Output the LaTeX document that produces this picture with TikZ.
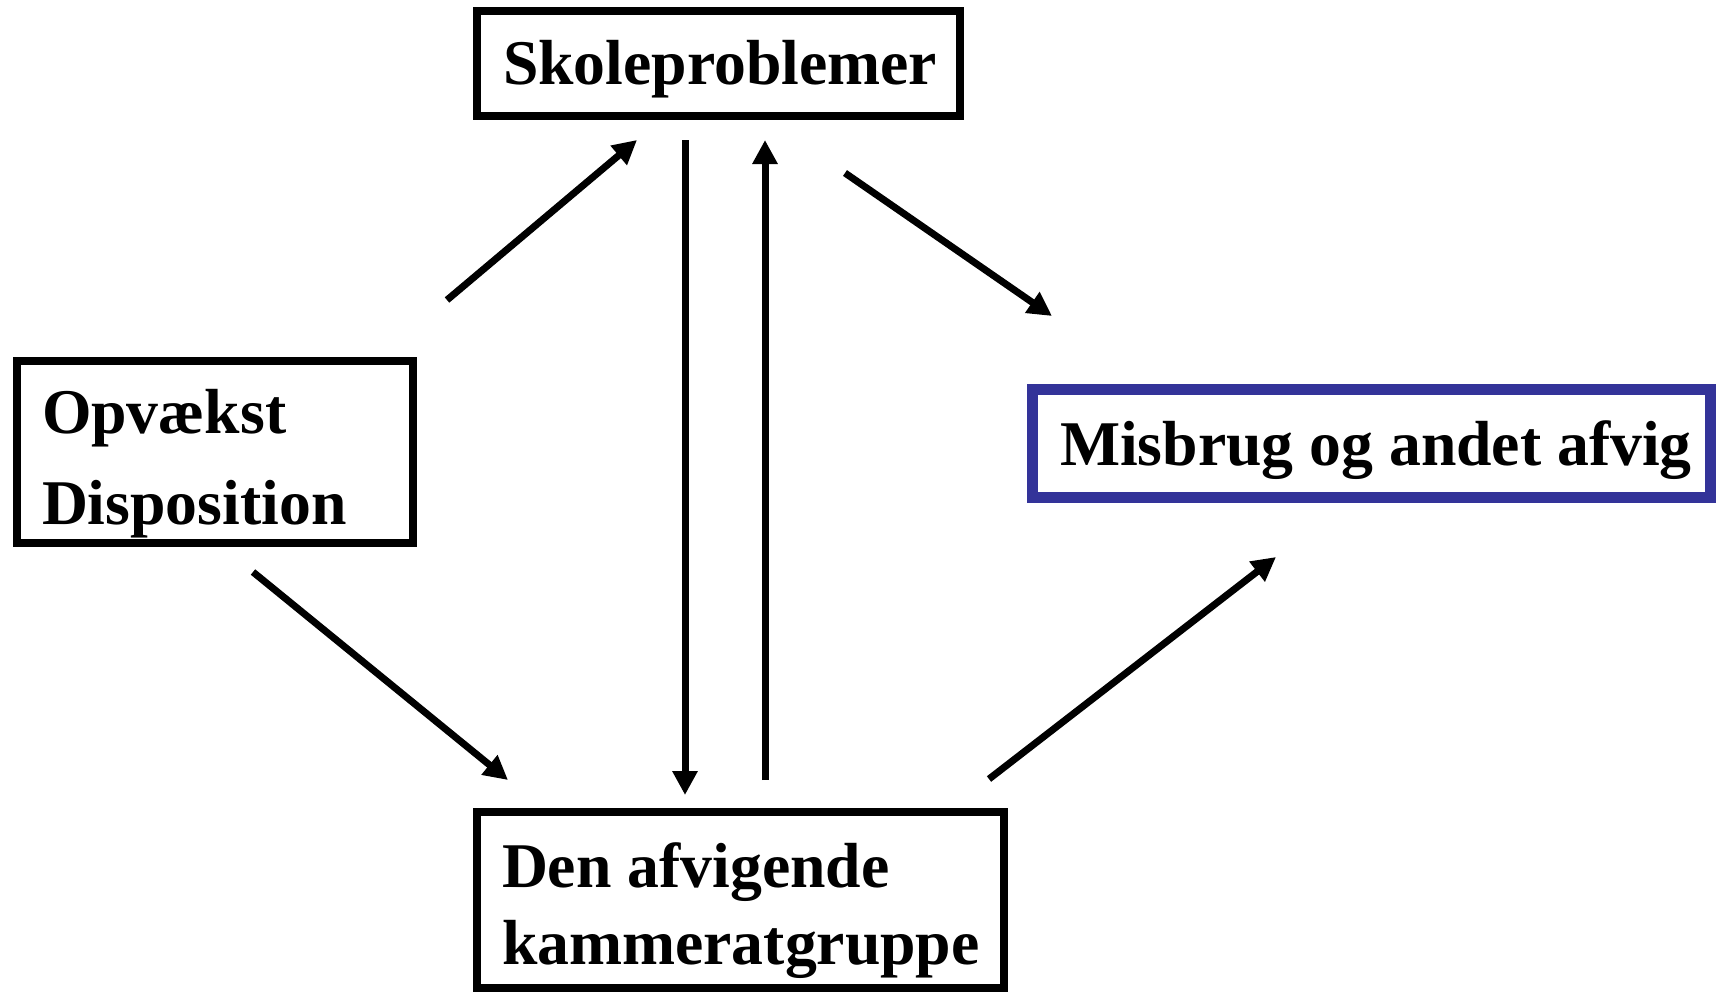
\documentclass[tikz,border=0pt]{standalone}
\usepackage{fontspec}
\setmainfont{Liberation Serif}
\usetikzlibrary{arrows.meta}
\definecolor{boxblue}{RGB}{51,51,153}
\begin{document}
\begin{tikzpicture}[x=0.5pt,y=-0.5pt,
  box/.style={draw=black,line width=4pt,rectangle,inner sep=0pt,outer sep=0pt},
  bluebox/.style={box,draw=boxblue,line width=5.5pt},
  label/.style={anchor=base west,inner sep=0pt,outer sep=0pt,
    font=\fontsize{31.85pt}{38pt}\selectfont\bfseries},
  link/.style={line width=3.5pt,-{Triangle[length=12pt,width=12pt]}}]
\useasboundingbox (0,0) rectangle (1717,992);

% boxes
\node[box,minimum width=241.5pt,minimum height=52.5pt] (skole) at (718.5,63.5) {};
\node[box,minimum width=198pt,minimum height=91pt] (opv) at (215,452) {};
\node[box,minimum width=263.5pt,minimum height=88pt] (den) at (740.5,900) {};
\node[bluebox,minimum width=339pt,minimum height=54pt] (mis) at (1371,443) {};

% texts
\node[label] (tskole) at (503,84) {Skoleproblemer};
\node[label] (topv1) at (42,433) {Opvækst};
\node[label] (topv2) at (42,524) {Disposition};
\node[label] (tden1) at (502,887) {Den afvigende};
\node[label] (tden2) at (502,964) {kammeratgruppe};
\node[label] (tmis) at (1060,465) {Misbrug og andet afvig};

% arrow end points
\coordinate (a1s) at (447,300);  \coordinate (a1e) at (637,140);
\coordinate (a2s) at (685,140);  \coordinate (a2e) at (685,795);
\coordinate (a3s) at (765,780);  \coordinate (a3e) at (765,140);
\coordinate (a4s) at (845,173);  \coordinate (a4e) at (1052,316);
\coordinate (a5s) at (253,572);  \coordinate (a5e) at (508,780);
\coordinate (a6s) at (989,779);  \coordinate (a6e) at (1276,557);

% arrows
\draw[link] (a1s) -- (a1e);
\draw[link] (a2s) -- (a2e);
\draw[link] (a3s) -- (a3e);
\draw[link] (a4s) -- (a4e);
\draw[link] (a5s) -- (a5e);
\draw[link] (a6s) -- (a6e);
\end{tikzpicture}
\end{document}
